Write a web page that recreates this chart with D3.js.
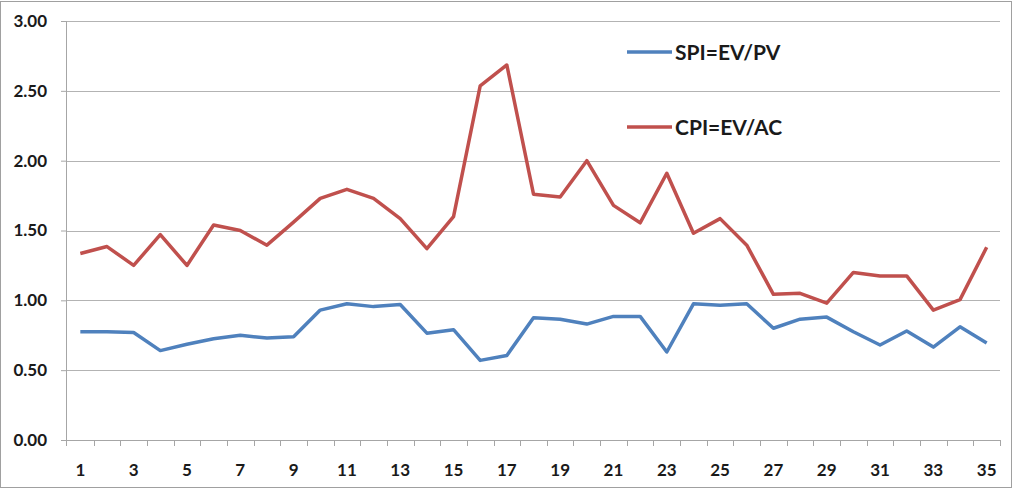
<!DOCTYPE html>
<html>
<head>
<meta charset="utf-8">
<script src="https://cdn.jsdelivr.net/npm/d3@7"></script>
<style>
  body { margin: 0; background: #fff; }
  svg { display: block; font-family: Lato, "Open Sans", sans-serif; }
  .axis text { font-family: Lato, "Open Sans", sans-serif; font-size: 17px; font-weight: 700; fill: #1a1a1a; }
  .axis path, .axis line { stroke: #a6a6a6; }
</style>
</head>
<body>
<div id="chart"></div>
<script>
const periods = d3.range(1, 36);
const spi = [0.775, 0.775, 0.77, 0.64, 0.685, 0.725, 0.75, 0.73, 0.74, 0.93,
  0.975, 0.955, 0.97, 0.765, 0.79, 0.57, 0.605, 0.875, 0.865, 0.83,
  0.885, 0.885, 0.63, 0.975, 0.965, 0.975, 0.80, 0.865, 0.88, 0.775,
  0.68, 0.78, 0.665, 0.81, 0.695];
const cpi = [1.335, 1.385, 1.25, 1.47, 1.25, 1.54, 1.50, 1.395, 1.56, 1.73,
  1.795, 1.73, 1.585, 1.37, 1.60, 2.535, 2.685, 1.76, 1.74, 2.00,
  1.68, 1.555, 1.91, 1.48, 1.585, 1.395, 1.043, 1.05, 0.98, 1.20,
  1.175, 1.175, 0.93, 1.005, 1.38];
const yTicks = [0, 0.5, 1, 1.5, 2, 2.5, 3];
const xTickLabels = periods.filter((p) => p % 2 === 1);

const series = [
  { name: "SPI=EV/PV", values: spi, color: "#4f81bd" },
  { name: "CPI=EV/AC", values: cpi, color: "#c0504d" }
];

const width = 1017;
const height = 490;
const margin = { top: 21, right: 17, bottom: 50, left: 67 };
const innerWidth = width - margin.left - margin.right;
const innerHeight = height - margin.top - margin.bottom;

const svg = d3.select("#chart").append("svg")
  .attr("width", width)
  .attr("height", height);

svg.append("rect")
  .attr("x", 0.5).attr("y", 1.5)
  .attr("width", 1011).attr("height", 486)
  .attr("fill", "#fff")
  .attr("stroke", "#a0a0a0");

const g = svg.append("g").attr("transform", `translate(${margin.left},${margin.top})`);

const x = d3.scaleBand().domain(periods).range([0, innerWidth]);
const y = d3.scaleLinear().domain([0, 3]).range([innerHeight, 0]);

g.selectAll(".grid")
  .data(yTicks.filter((t) => t > 0)).join("line")
  .attr("class", "grid")
  .attr("x1", 0).attr("x2", innerWidth)
  .attr("y1", (d) => Math.round(y(d)) + 0.5)
  .attr("y2", (d) => Math.round(y(d)) + 0.5)
  .attr("stroke", "#b3b3b3");

const yAxis = g.append("g").attr("class", "axis")
  .call(d3.axisLeft(y).tickValues(yTicks).tickFormat(d3.format(".2f")).tickSize(6).tickPadding(14));
yAxis.select(".domain").attr("d", `M-0.5,${innerHeight + 6}V0`);

// x axis: ticks at category boundaries, labels on odd periods
const xAxis = g.append("g").attr("class", "axis")
  .attr("transform", `translate(0,${innerHeight})`);
xAxis.append("line")
  .attr("x1", 0).attr("x2", innerWidth)
  .attr("y1", 0.5).attr("y2", 0.5)
  .attr("stroke", "#a6a6a6");
xAxis.selectAll(".xtick")
  .data(periods).join("line")
  .attr("class", "xtick")
  .attr("x1", (d) => Math.round(x(d) + x.bandwidth()) + 0.5)
  .attr("x2", (d) => Math.round(x(d) + x.bandwidth()) + 0.5)
  .attr("y1", 0).attr("y2", 6)
  .attr("stroke", "#a6a6a6");
xAxis.selectAll(".xlabel")
  .data(xTickLabels).join("text")
  .attr("class", "xlabel")
  .attr("x", (d) => x(d) + x.bandwidth() / 2)
  .attr("y", 36)
  .attr("text-anchor", "middle")
  .text((d) => d);

const line = d3.line()
  .x((d, i) => x(periods[i]) + x.bandwidth() / 2)
  .y((d) => y(d));

g.selectAll(".series")
  .data(series).join("path")
  .attr("class", "series")
  .attr("d", (d) => line(d.values))
  .attr("fill", "none")
  .attr("stroke", (d) => d.color)
  .attr("stroke-width", 3.5)
  .attr("stroke-linejoin", "round");

const legend = svg.append("g").attr("transform", "translate(627,52)");
const items = legend.selectAll("g")
  .data(series).join("g")
  .attr("transform", (d, i) => `translate(0,${i * 75})`);
items.append("line")
  .attr("x1", 0).attr("x2", 45)
  .attr("stroke", (d) => d.color)
  .attr("stroke-width", 3.5);
items.append("text")
  .attr("x", 48)
  .attr("dy", "0.36em")
  .attr("font-size", 21)
  .attr("font-weight", 700)
  .attr("fill", "#1a1a1a")
  .text((d) => d.name);
</script>
</body>
</html>
